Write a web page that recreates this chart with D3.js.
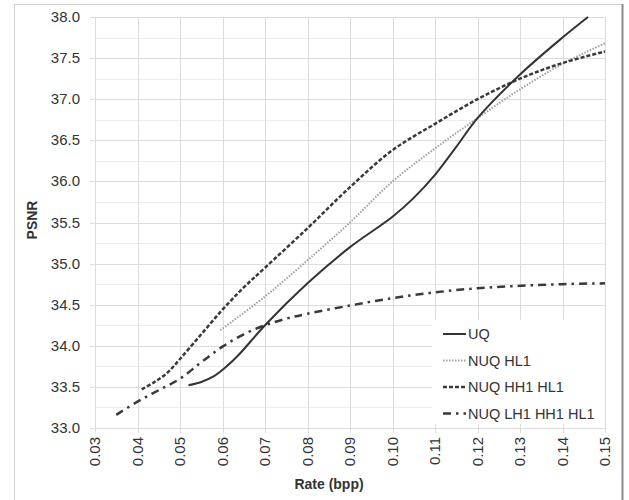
<!DOCTYPE html>
<html>
<head>
<script src="https://cdnjs.cloudflare.com/ajax/libs/d3/7.8.5/d3.min.js"></script>
<style>
  body { margin: 0; background: #fff; }
  text { font-family: "Liberation Sans", Arial, sans-serif; fill: #333; }
</style>
</head>
<body>
<script>
// values
var uqX    = [0.052, 0.055, 0.058, 0.061, 0.064, 0.07, 0.08, 0.09, 0.10, 0.105, 0.11, 0.115, 0.12, 0.13, 0.14, 0.146];
var uqY    = [33.52, 33.56, 33.63, 33.75, 33.90, 34.25, 34.76, 35.20, 35.57, 35.80, 36.08, 36.42, 36.77, 37.30, 37.75, 38.0];
var hlX    = [0.0595, 0.07, 0.08, 0.09, 0.10, 0.11, 0.12, 0.13, 0.14, 0.15];
var hlY    = [34.19, 34.60, 35.04, 35.50, 36.00, 36.40, 36.77, 37.12, 37.43, 37.68];
var hhX    = [0.041, 0.044, 0.047, 0.05, 0.055, 0.06, 0.065, 0.07, 0.08, 0.09, 0.10, 0.11, 0.12, 0.13, 0.14, 0.15];
var hhY    = [33.47, 33.56, 33.67, 33.84, 34.14, 34.44, 34.71, 34.95, 35.43, 35.93, 36.38, 36.70, 37.00, 37.25, 37.44, 37.58];
var lhX    = [0.035, 0.04, 0.045, 0.05, 0.055, 0.06, 0.065, 0.07, 0.075, 0.08, 0.09, 0.10, 0.11, 0.12, 0.13, 0.14, 0.15];
var lhY    = [33.16, 33.32, 33.46, 33.60, 33.80, 33.99, 34.14, 34.25, 34.33, 34.39, 34.49, 34.58, 34.65, 34.70, 34.73, 34.75, 34.76];
var seriesNames = ['UQ', 'NUQ HL1', 'NUQ HH1 HL1', 'NUQ LH1 HH1 HL1'];
var xTicks = [0.03, 0.04, 0.05, 0.06, 0.07, 0.08, 0.09, 0.10, 0.11, 0.12, 0.13, 0.14, 0.15];
var yTicks = [33.0, 33.5, 34.0, 34.5, 35.0, 35.5, 36.0, 36.5, 37.0, 37.5, 38.0];
var yMinor = [33.25, 33.75, 34.25, 34.75, 35.25, 35.75, 36.25, 36.75, 37.25, 37.75];

var svg = d3.select('body').append('svg')
  .attr('width', 629).attr('height', 500);

// frame of the chart
svg.append('rect').attr('x', 14.5).attr('y', 4.5).attr('width', 608).attr('height', 510)
  .attr('fill', 'none').attr('stroke', '#d0d0d0');
svg.append('line').attr('x1', 622.5).attr('x2', 622.5).attr('y1', 4).attr('y2', 500)
  .attr('stroke', '#8a8a8a').attr('stroke-width', 2);

var x = d3.scaleLinear().domain([0.03, 0.15]).range([95, 605]);
var y = d3.scaleLinear().domain([33, 38]).range([428, 17]);

// grid
svg.append('g').selectAll('line').data(yMinor).enter().append('line')
  .attr('x1', 95).attr('x2', 605)
  .attr('y1', function(d) { return Math.round(y(d)) + 0.5; })
  .attr('y2', function(d) { return Math.round(y(d)) + 0.5; })
  .attr('stroke', '#ececec');
svg.append('g').selectAll('line').data(yTicks).enter().append('line')
  .attr('x1', 90).attr('x2', 605)
  .attr('y1', function(d) { return Math.round(y(d)) + 0.5; })
  .attr('y2', function(d) { return Math.round(y(d)) + 0.5; })
  .attr('stroke', '#dcdcdc');
svg.append('g').selectAll('line').data(xTicks).enter().append('line')
  .attr('x1', function(d) { return Math.round(x(d)) + 0.5; })
  .attr('x2', function(d) { return Math.round(x(d)) + 0.5; })
  .attr('y1', 17).attr('y2', 433)
  .attr('stroke', '#dcdcdc');

// y tick labels
svg.append('g').selectAll('text').data(yTicks).enter().append('text')
  .attr('x', 80).attr('y', function(d) { return y(d) + 5; })
  .attr('text-anchor', 'end').attr('font-size', 15)
  .text(function(d) { return d.toFixed(1); });

// x tick labels (rotated)
svg.append('g').selectAll('text').data(xTicks).enter().append('text')
  .attr('transform', function(d) { return 'translate(' + (x(d) + 5) + ',437) rotate(-90)'; })
  .attr('text-anchor', 'end').attr('font-size', 15)
  .text(function(d) { return d.toFixed(2); });

svg.append('text').attr('transform', 'translate(37,220) rotate(-90)')
  .attr('text-anchor', 'middle').attr('font-size', 14).attr('font-weight', 'bold')
  .text('PSNR');
svg.append('text').attr('x', 329).attr('y', 489)
  .attr('text-anchor', 'middle').attr('font-size', 14).attr('font-weight', 'bold')
  .text('Rate (bpp)');

// series
var styles = [
  { color: '#333', width: 2, dash: null },
  { color: '#a0a0a0', width: 2, dash: '1.5,1.5' },
  { color: '#3a3a3a', width: 2.5, dash: '4,2' },
  { color: '#3a3a3a', width: 2.5, dash: '8,5,2.5,5' }
];
var series = [[uqX, uqY], [hlX, hlY], [hhX, hhY], [lhX, lhY]];

var line = d3.line()
  .x(function(d) { return x(d[0]); })
  .y(function(d) { return y(d[1]); })
  .curve(d3.curveCatmullRom.alpha(0.5));

var drawOrder = [3, 1, 2, 0];
drawOrder.forEach(function(i) {
  var pts = d3.zip(series[i][0], series[i][1]);
  svg.append('path').datum(pts)
    .attr('d', line)
    .attr('fill', 'none')
    .attr('stroke', styles[i].color)
    .attr('stroke-width', styles[i].width)
    .attr('stroke-dasharray', styles[i].dash);
});

// legend
var lg = svg.append('g');
lg.append('rect').attr('x', 432).attr('y', 320).attr('width', 173).attr('height', 104)
  .attr('fill', '#fff');
var rowY = [334, 360.5, 387, 413.5];
seriesNames.forEach(function(name, i) {
  lg.append('line').attr('x1', 443).attr('x2', 466)
    .attr('y1', rowY[i]).attr('y2', rowY[i])
    .attr('stroke', styles[i].color).attr('stroke-width', styles[i].width)
    .attr('stroke-dasharray', styles[i].dash);
  lg.append('text').attr('x', 468).attr('y', rowY[i] + 5)
    .attr('font-size', 14.5).text(name);
});
</script>
</body>
</html>
